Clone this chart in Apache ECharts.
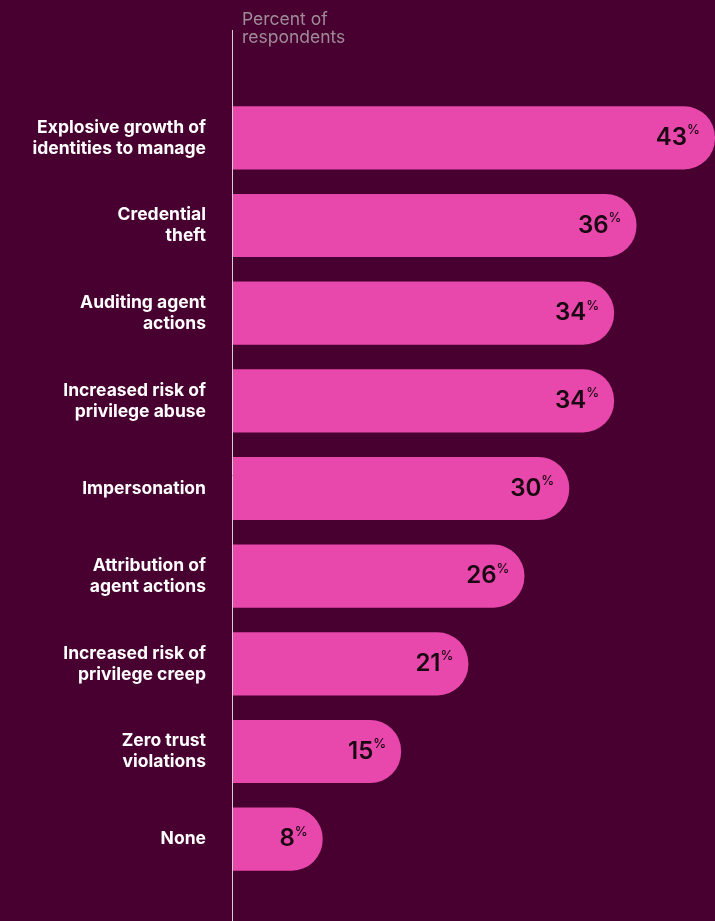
<!DOCTYPE html>
<html>
<head>
<meta charset="utf-8">
<script src="https://cdn.jsdelivr.net/npm/echarts@6/dist/echarts.min.js"></script>
<style>
  html, body { margin: 0; padding: 0; background: #47002f; }
  #chart { width: 715px; height: 921px; }
</style>
</head>
<body>
<div id="chart"></div>
<script>
// Concerns about agent identities, percent of respondents
const categories = [
  'Explosive growth of\nidentities to manage',
  'Credential\ntheft',
  'Auditing agent\nactions',
  'Increased risk of\nprivilege abuse',
  'Impersonation',
  'Attribution of\nagent actions',
  'Increased risk of\nprivilege creep',
  'Zero trust\nviolations',
  'None'
];
const values = [43, 36, 34, 34, 30, 26, 21, 15, 8];
const axisTitle = 'Percent of\nrespondents';

const chart = echarts.init(document.getElementById('chart'));
chart.setOption({
  backgroundColor: '#47002f',
  animation: false,
  grid: { left: 233, right: 0, top: 94, bottom: 38, containLabel: false },
  xAxis: {
    type: 'value', min: 0, max: 43,
    show: false
  },
  yAxis: {
    type: 'category',
    data: categories,
    inverse: true,
    axisLine: { show: false },
    axisTick: { show: false },
    axisLabel: {
      margin: 27,
      color: '#ffffff',
      fontFamily: 'Inter',
      fontWeight: 'bold',
      fontSize: 17.5,
      lineHeight: 21,
      align: 'right'
    }
  },
  series: [{
    type: 'bar',
    data: values,
    barCategoryGap: '28%',
    itemStyle: { color: '#e847ab', borderRadius: [0, 31, 31, 0] },
    label: {
      show: true,
      position: 'insideRight',
      distance: 15,
      formatter: p => '{v|' + p.value + '}{p|%}',
      rich: {
        v: { fontFamily: 'Inter', fontWeight: 600, fontSize: 24, color: '#1a0812', lineHeight: 28 },
        p: { fontFamily: 'Inter', fontWeight: 500, fontSize: 13, color: '#1a0812', verticalAlign: 'top', padding: [0, 0, 12, 0], lineHeight: 28 }
      }
    }
  }],
  graphic: [
    {
      type: 'line',
      shape: { x1: 232.5, y1: 30, x2: 232.5, y2: 921 },
      style: { stroke: '#d9cfd5', lineWidth: 1 }
    },
    {
      type: 'text',
      left: 242, top: 11,
      style: {
        text: axisTitle,
        fill: '#a08c99',
        font: '17.5px Inter',
        lineHeight: 18
      }
    }
  ]
});
</script>
</body>
</html>
